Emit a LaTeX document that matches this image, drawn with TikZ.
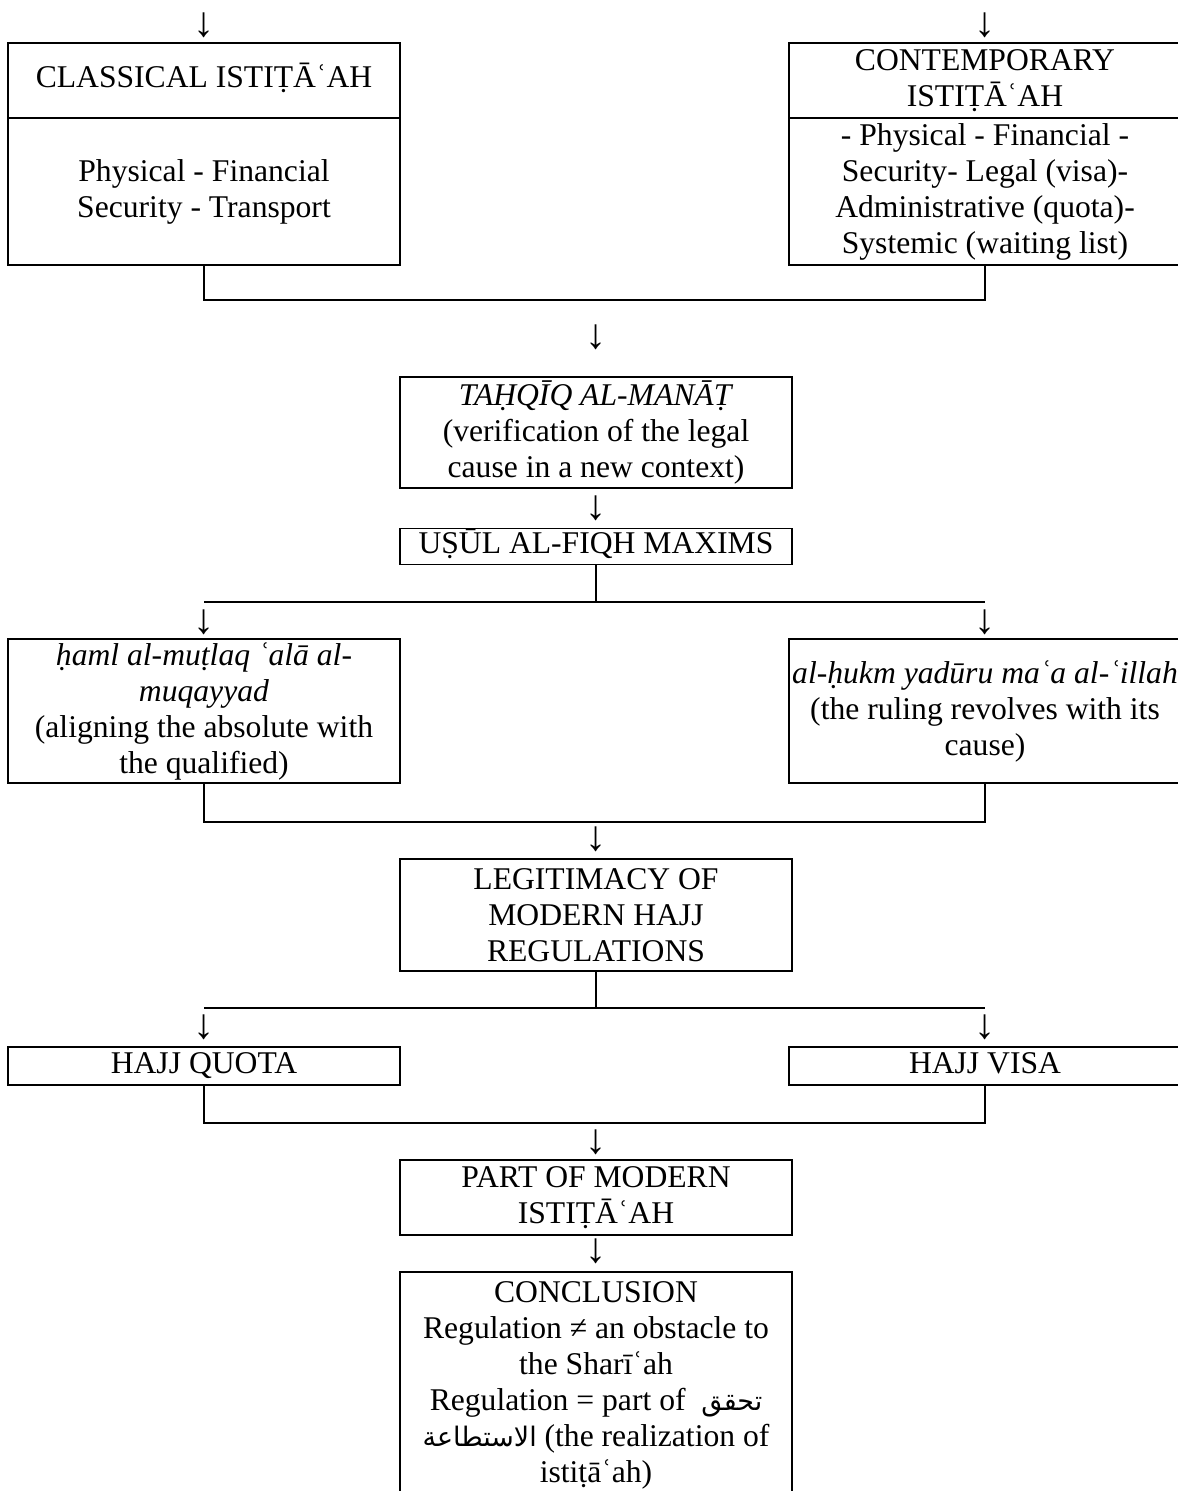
\documentclass[tikz,border=0pt]{standalone}
\usepackage{fontspec}
\setmainfont{Liberation Serif}
\newfontfamily\arabicfont[Script=Arabic,Scale=0.85]{DejaVu Sans}
\TeXXeTstate=1

\begin{document}
\begin{tikzpicture}[x=0.02cm,y=-0.02cm,
  every node/.style={font=\fontsize{18}{20.5}\selectfont},
  box/.style={draw,line width=1.1pt,align=center,inner sep=0pt,minimum width=7.84cm},
  down/.style={inner sep=0pt,font=\fontsize{24}{24}\selectfont},
  link/.style={line width=1pt}]
\useasboundingbox (0,0) rectangle (1177,1491);
%
\node[down] (d1) at (204,25) {↓};
\node[down] (d2) at (985,25) {↓};
\node[box,minimum height=1.5cm] (clhead) at (204,80.5) {\strut CLASSICAL ISTIṬĀʿAH};
\node[box,minimum height=2.94cm] (clbody) at (204,191.5) {Physical - Financial\\Security - Transport};
\node[box,minimum height=1.5cm] (cthead) at (985,80.5) {CONTEMPORARY\\ISTIṬĀʿAH};
\node[box,minimum height=2.94cm] (ctbody) at (985,191.5) {- Physical - Financial -\\Security- Legal (visa)-\\Administrative (quota)-\\Systemic (waiting list)};
%
\coordinate (j1) at (596,300);
\draw[link] (clbody.south) |- (j1) -| (ctbody.south);
\node[down] (d3) at (596,337) {↓};
\node[box,minimum height=2.22cm] (tahqiq) at (596,432.5) {\textit{TAḤQĪQ AL-MANĀṬ}\\(verification of the legal\\cause in a new context)};
\node[down] (d4) at (596,508) {↓};
\node[box,minimum height=0.66cm] (usul) at (596,546.5) {\strut UṢŪL AL-FIQH MAXIMS};
%
\coordinate (j2l) at (204,602);
\coordinate (j2r) at (985,602);
\draw[link] (usul.south) -- (usul.south |- j2l);
\draw[link] (j2l) -- (j2r);
\node[down] (d5) at (204,622) {↓};
\node[down] (d6) at (985,622) {↓};
\node[box,minimum height=2.88cm] (haml) at (204,711) {\textit{ḥaml al-muṭlaq ʿalā al-}\\\textit{muqayyad}\\(aligning the absolute with\\the qualified)};
\node[box,minimum height=2.88cm] (hukm) at (985,711) {\textit{al-ḥukm yadūru maʿa al-ʿillah}\\(the ruling revolves with its\\cause)};
%
\coordinate (j3) at (596,822);
\draw[link] (haml.south) |- (j3) -| (hukm.south);
\node[down] (d7) at (596,839) {↓};
\node[box,minimum height=2.24cm] (legit) at (596,915) {LEGITIMACY OF\\MODERN HAJJ\\REGULATIONS};
%
\coordinate (j4l) at (204,1008);
\coordinate (j4r) at (985,1008);
\draw[link] (legit.south) -- (legit.south |- j4l);
\draw[link] (j4l) -- (j4r);
\node[down] (d8) at (204,1027) {↓};
\node[down] (d9) at (985,1027) {↓};
\node[box,minimum height=0.76cm] (quota) at (204,1066) {\strut HAJJ QUOTA};
\node[box,minimum height=0.76cm] (visa) at (985,1066) {\strut HAJJ VISA};
%
\coordinate (j5) at (596,1123);
\draw[link] (quota.south) |- (j5) -| (visa.south);
\node[down] (d10) at (596,1142) {↓};
\node[box,minimum height=1.5cm] (part) at (596,1197.5) {PART OF MODERN\\ISTIṬĀʿAH};
\node[down] (d11) at (596,1251) {↓};
\node[box,minimum height=4.52cm] (concl) at (596,1385) {CONCLUSION\\Regulation ≠ an obstacle to\\the Sharīʿah\\Regulation = part of \ {\arabicfont\beginR تحقق\endR}\\{\arabicfont\beginR الاستطاعة\endR} (the realization of\\istiṭāʿah)};
%
\end{tikzpicture}
\end{document}
